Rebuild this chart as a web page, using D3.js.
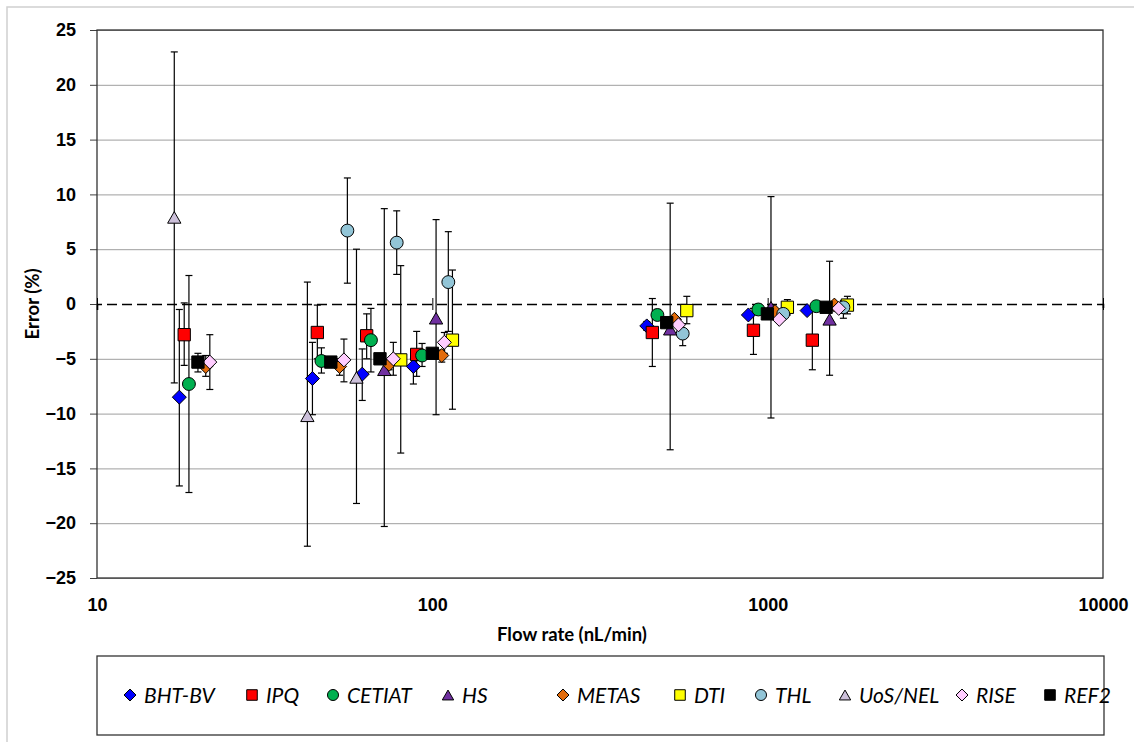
<!DOCTYPE html>
<html>
<head>
<meta charset="utf-8">
<script src="https://cdn.jsdelivr.net/npm/d3@7"></script>
<style>
  body { margin: 0; background: #fff; }
  svg { display: block; font-family: Lato, "Open Sans", sans-serif; }
  .tick-label { font-size: 18px; font-weight: bold; fill: #000; }
  .axis-title { font-size: 18.5px; font-weight: bold; fill: #000; }
  .legend-text { font-size: 21px; font-style: italic; fill: #000; }
</style>
</head>
<body>
<svg width="1134" height="742"></svg>
<script>
// each row: [flow rate (nL/min), error (%), error bar top, error bar bottom]
const BHT_BV = [
  [17.6, -8.5, -0.5, -16.6], [43.9, -6.8, -3.5, -10.1], [61.8, -6.4, -4.1, -8.8],
  [87.8, -5.7, -5.0, -7.3], [436, -2.0, -1.6, -2.4], [876, -1.0, null, null], [1311, -0.6, null, null]
];
const IPQ = [
  [18.2, -2.8, 0.1, -5.6], [45.4, -2.6, -0.1, -5.0], [63.7, -2.9, -0.9, -5.0],
  [89.8, -4.6, -2.5, -6.6], [453, -2.6, 0.5, -5.7], [907, -2.4, -0.4, -4.6], [1359, -3.3, -0.6, -6.0]
];
const CETIAT = [
  [18.8, -7.3, 2.6, -17.2], [46.7, -5.2, -4.0, -6.3], [65.6, -3.3, -0.4, -6.2],
  [93.2, -4.7, -3.6, -5.7], [469, -1.0, -0.5, -1.4], [938, -0.5, null, null], [1397, -0.2, null, null]
];
const HS = [
  [71.9, -6.0, 8.7, -20.3], [102.6, -1.3, 7.7, -10.1], [512, -2.3, 9.2, -13.3],
  [1023, -0.3, 9.8, -10.4], [1530, -1.4, 3.9, -6.5]
];
const METAS = [
  [21.1, -5.7, -4.7, -6.6], [52.9, -5.7, -5.0, -6.5], [74.3, -5.5, -5.1, -6.0],
  [106.7, -4.7, -4.2, -5.3], [527, -1.4, null, null], [1052, -0.7, null, null], [1581, -0.1, null, null]
];
const DTI = [
  [80.5, -5.1, 3.5, -13.6], [114.8, -3.3, 3.1, -9.6], [574, -0.6, 0.7, -1.8],
  [1145, -0.3, 0.4, -1.0], [1729, -0.1, 0.7, -0.9]
];
const THL = [
  [55.8, 6.7, 11.5, 1.9], [78.3, 5.6, 8.5, 2.7], [111.6, 2.0, 6.6, -2.5],
  [558, -2.7, -1.8, -3.8], [1113, -0.9, null, null], [1682, -0.3, 0.3, -1.3]
];
const UOS_NEL = [
  [17.0, 7.9, 23.0, -7.2], [42.4, -10.2, 2.0, -22.1], [59.4, -6.7, 5.0, -18.2]
];
const RISE = [
  [21.7, -5.3, -2.8, -7.8], [54.5, -5.1, -3.2, -7.1], [76.5, -5.0, -3.5, -6.5],
  [108.6, -3.5, -2.6, -4.5], [542, -1.9, null, null], [1083, -1.4, null, null], [1629, -0.4, null, null]
];
const REF2 = [
  [20.0, -5.3, -4.5, -6.2], [49.8, -5.3, null, null], [69.8, -5.0, null, null],
  [100, -4.5, null, null], [500, -1.7, null, null], [998, -0.9, null, null], [1494, -0.3, null, null]
];

const labNames = ["BHT-BV", "IPQ", "CETIAT", "HS", "METAS", "DTI", "THL", "UoS/NEL", "RISE", "REF2"];
const labData = [BHT_BV, IPQ, CETIAT, HS, METAS, DTI, THL, UOS_NEL, RISE, REF2];
const xTicks = [10, 100, 1000, 10000];
const yTicks = [-25, -20, -15, -10, -5, 0, 5, 10, 15, 20, 25];

// styles
const labColor = ["#0000ff", "#ff0000", "#00b050", "#7030a0", "#e26b0a", "#ffff00", "#92c5d7", "#ccc0da", "#ffccff", "#000000"];
const labShape = ["diamond", "square", "circle", "triangle", "diamond", "square", "circle", "triangle", "diamond", "square"];
const legendX = [130, 252, 333, 448, 563, 680, 761, 845, 962, 1050];

const plot = { left: 97, right: 1103, top: 30, bottom: 578 };

const svg = d3.select("svg");

// chart area border (runs off the right / bottom of the picture)
svg.append("rect")
    .attr("x", 7).attr("y", 7)
    .attr("width", 1150).attr("height", 760)
    .attr("fill", "none")
    .attr("stroke", "#d0d0d0")
    .attr("stroke-width", 1.5);

const x = d3.scaleLog().domain([10, 10000]).range([plot.left, plot.right]);
const y = d3.scaleLinear().domain([-25, 25]).range([plot.bottom, plot.top]);

// gridlines
svg.append("g")
    .attr("transform", `translate(${plot.left},0)`)
    .call(d3.axisLeft(y).tickValues(yTicks.filter(d => d !== 0)).tickSize(-(plot.right - plot.left)).tickFormat(""))
    .call(g => g.select(".domain").remove())
    .selectAll("line").attr("stroke", "#9e9e9e");

// y axis with labels
svg.append("g")
    .attr("transform", `translate(${plot.left},0)`)
    .call(d3.axisLeft(y).tickValues(yTicks).tickSize(7).tickPadding(14))
    .call(g => g.select(".domain").remove())
    .call(g => g.selectAll("line").attr("stroke", "#404040"))
    .selectAll("text").attr("class", "tick-label").attr("font-family", null).attr("font-size", null);

// plot border
svg.append("rect")
    .attr("x", plot.left).attr("y", plot.top)
    .attr("width", plot.right - plot.left).attr("height", plot.bottom - plot.top)
    .attr("fill", "none").attr("stroke", "#333").attr("stroke-width", 1.3);

// x axis crossing at 0 (dashed)
svg.append("g")
    .attr("transform", `translate(0,${y(0)})`)
    .call(d3.axisBottom(x).tickValues(xTicks).tickSizeOuter(0).tickSize(6).tickFormat(""))
    .call(g => g.select(".domain").attr("stroke", "#000").attr("stroke-width", 1.6).attr("stroke-dasharray", "10,5"))
    .call(g => g.selectAll(".tick line").attr("y1", -6).attr("y2", 6).attr("stroke", "#000"));

// x labels at bottom
svg.append("g")
    .attr("transform", `translate(0,${plot.bottom})`)
    .call(d3.axisBottom(x).tickValues(xTicks).tickSize(0).tickPadding(20).tickFormat(d3.format("d")))
    .call(g => g.select(".domain").remove())
    .selectAll("text").attr("class", "tick-label").attr("font-family", null).attr("font-size", null);

// axis titles
svg.append("text")
    .attr("class", "axis-title")
    .attr("x", 572).attr("y", 641)
    .attr("text-anchor", "middle")
    .text("Flow rate (nL/min)");

svg.append("text")
    .attr("class", "axis-title")
    .attr("transform", `translate(39,${y(0)}) rotate(-90)`)
    .attr("text-anchor", "middle")
    .text("Error (%)");

function markerPath(shape, r) {
  const p = d3.path();
  if (shape === "diamond") {
    p.moveTo(0, -r); p.lineTo(r, 0); p.lineTo(0, r); p.lineTo(-r, 0); p.closePath();
  } else if (shape === "square") {
    const s = r * 0.88;
    p.rect(-s, -s, 2 * s, 2 * s);
  } else if (shape === "circle") {
    p.arc(0, 0, r * 0.92, 0, 2 * Math.PI);
  } else {
    const h = r * 1.65;
    p.moveTo(0, -h / 2); p.lineTo(r * 0.95, h / 2); p.lineTo(-r * 0.95, h / 2); p.closePath();
  }
  return p.toString();
}

// error bars
const capW = 3.5;
const bars = svg.append("g").attr("stroke", "#000").attr("stroke-width", 1.2);
labData.forEach(rows => {
  rows.filter(d => d[2] !== null).forEach(d => {
    const cx = x(d[0]);
    bars.append("line").attr("x1", cx).attr("x2", cx).attr("y1", y(d[2])).attr("y2", y(d[3]));
    bars.append("line").attr("x1", cx - capW).attr("x2", cx + capW).attr("y1", y(d[2])).attr("y2", y(d[2]));
    bars.append("line").attr("x1", cx - capW).attr("x2", cx + capW).attr("y1", y(d[3])).attr("y2", y(d[3]));
  });
});

// markers
labData.forEach((rows, i) => {
  svg.append("g")
    .selectAll("path")
    .data(rows)
    .enter().append("path")
    .attr("d", markerPath(labShape[i], 7))
    .attr("transform", d => `translate(${x(d[0])},${y(d[1])})`)
    .attr("fill", labColor[i])
    .attr("stroke", "#000")
    .attr("stroke-width", 1);
});

// legend
svg.append("rect")
    .attr("x", 97).attr("y", 656)
    .attr("width", 1007).attr("height", 79)
    .attr("fill", "#fff").attr("stroke", "#333").attr("stroke-width", 1.3);

const legend = svg.append("g")
    .selectAll("g")
    .data(labNames)
    .enter().append("g")
    .attr("transform", (d, i) => `translate(${legendX[i]},695)`);

legend.append("path")
    .attr("d", (d, i) => markerPath(labShape[i], 6))
    .attr("fill", (d, i) => labColor[i])
    .attr("stroke", "#000")
    .attr("stroke-width", 1);

legend.append("text")
    .attr("class", "legend-text")
    .attr("x", 14)
    .attr("dy", "0.36em")
    .text(d => d);
</script>
</body>
</html>
